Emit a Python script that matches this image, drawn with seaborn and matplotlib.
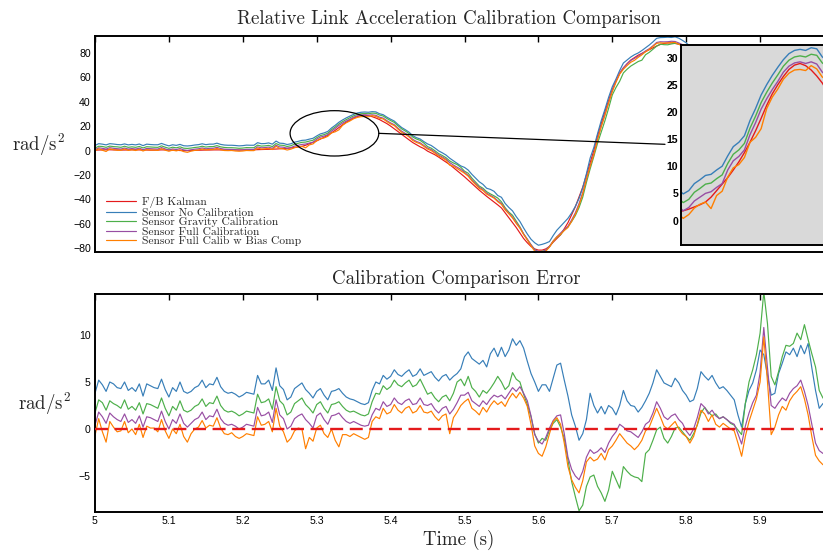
import numpy as np
import pandas as pd
import matplotlib
matplotlib.use("Agg")
import matplotlib.pyplot as plt
import seaborn as sns
from matplotlib.patches import Ellipse

# ---------------- data ----------------
time = np.round(5.0 + 0.005 * np.arange(200), 3)

series_labels = ["F/B Kalman", "Sensor No Calibration", "Sensor Gravity Calibration",
                 "Sensor Full Calibration", "Sensor Full Calib w Bias Comp"]

kalman = [
    0.3, 0.4, 0.5, 0.6, 0.6, 0.5, 0.5, 0.4, 0.4, 0.5, 0.6, 0.6, 0.5, 0.5, 0.4, 0.3, 0.3, 0.4, 0.5, 0.5,
    0.4, 0.3, 0.2, 0.0, -0.1, -0.1, 0.0, 0.1, 0.2, 0.3, 0.4, 0.4, 0.5, 0.5, 0.5, 0.5, 0.5, 0.4, 0.4, 0.4,
    0.4, 0.5, 0.5, 0.6, 0.7, 0.8, 0.9, 1.0, 1.1, 1.2, 1.4, 1.6, 1.8, 2.1, 2.5, 2.9, 3.4, 4.3, 5.5, 6.7,
    7.9, 9.3, 10.8, 12.5, 14.4, 16.5, 18.8, 21.2, 23.3, 25.0, 26.5, 27.8, 28.6, 28.9, 28.5, 27.7, 26.6, 25.3, 23.6, 22.0,
    20.0, 17.8, 15.5, 13.2, 11.0, 8.7, 6.5, 4.7, 3.0, 1.6, -0.5, -2.0, -3.5, -5.4, -7.5, -9.5, -11.5, -14.0, -16.5, -19.0,
    -21.5, -24.2, -27.0, -29.8, -32.5, -35.0, -37.5, -39.8, -42.0, -44.5, -47.0, -51.0, -55.0, -59.0, -63.0, -67.5, -72.0, -75.5, -78.5, -80.5,
    -81.5, -81.5, -80.5, -78.5, -75.0, -72.0, -69.0, -64.0, -59.0, -52.5, -46.0, -38.0, -30.0, -20.0, -10.0, 0.0, 12.0, 22.0, 32.0, 41.0,
    50.0, 57.0, 63.0, 67.5, 71.0, 74.0, 76.0, 78.0, 79.5, 81.0, 82.5, 84.0, 85.5, 86.8, 87.6, 88.0, 88.0, 87.6, 87.0, 86.0,
    84.5, 82.5, 80.0, 77.0, 74.0, 71.0, 68.0, 65.0, 62.0, 59.0, 56.0, 53.0, 50.0, 47.0, 44.0, 41.0, 38.0, 35.0, 32.0, 29.0,
    26.0, 23.0, 20.0, 17.0, 14.0, 11.0, 8.0, 5.0, 2.0, -1.0, -4.0, -7.0, -10.0, -13.0, -16.0, -19.0, -22.0, -25.0, -28.0, -31.0,
]

err_nocal = [
    3.8, 5.2, 4.7, 4.0, 5.0, 4.8, 4.4, 4.3, 5.0, 4.1, 4.4, 4.0, 4.8, 3.5, 4.8, 4.6, 4.4, 4.3, 5.3, 4.2,
    3.4, 4.4, 4.0, 5.0, 4.0, 3.8, 4.0, 4.4, 4.6, 5.2, 4.4, 4.8, 4.7, 5.5, 4.5, 4.0, 3.8, 3.9, 3.7, 3.4,
    3.6, 3.9, 3.8, 3.7, 5.7, 4.8, 4.8, 5.2, 4.1, 6.5, 4.6, 4.2, 3.1, 3.4, 4.3, 4.6, 4.9, 4.2, 3.8, 3.3,
    4.0, 4.3, 3.6, 3.1, 4.0, 4.1, 4.3, 3.8, 3.4, 3.2, 3.1, 2.9, 2.7, 2.6, 2.8, 4.1, 5.0, 4.8, 5.7, 5.3,
    5.6, 6.3, 5.8, 5.6, 6.0, 6.3, 5.6, 5.8, 6.4, 5.7, 5.9, 6.1, 5.5, 5.1, 5.6, 5.8, 5.2, 5.6, 5.9, 6.4,
    7.7, 8.2, 7.5, 7.2, 6.9, 7.3, 6.6, 8.0, 8.6, 7.7, 8.7, 7.7, 8.4, 9.6, 8.9, 9.4, 8.6, 7.2, 5.9, 5.0,
    4.0, 4.7, 4.7, 4.0, 5.4, 6.8, 7.0, 5.2, 3.5, 1.5, 0.3, -1.2, -0.5, 1.0, 3.8, 2.5, 1.7, 2.4, 1.6, 2.5,
    2.2, 1.5, 2.5, 4.1, 3.0, 2.5, 2.4, 1.8, 2.3, 3.0, 3.8, 4.9, 6.3, 5.6, 4.9, 4.7, 4.5, 5.4, 4.9, 4.1,
    3.6, 2.9, 3.1, 4.3, 6.1, 5.6, 5.2, 5.7, 4.9, 4.3, 4.5, 4.1, 3.6, 3.1, 1.5, 0.2, 2.7, 4.1, 4.9, 6.3,
    8.4, 7.9, 5.7, 3.6, 3.8, 5.9, 7.0, 8.2, 7.9, 8.6, 7.7, 8.9, 8.0, 9.1, 6.5, 4.1, 2.2, 2.7, 3.0, 3.2,
]

err_grav = [
    1.7, 3.1, 2.8, 2.0, 3.0, 2.7, 2.5, 2.2, 3.1, 2.1, 2.4, 2.0, 2.8, 1.6, 2.7, 2.6, 2.4, 2.2, 3.3, 2.2,
    1.4, 2.4, 2.0, 3.0, 2.0, 1.8, 2.0, 2.4, 2.6, 3.2, 2.4, 2.8, 2.7, 3.5, 2.5, 2.0, 1.8, 1.9, 1.7, 1.4,
    1.6, 1.9, 1.8, 1.7, 3.7, 2.8, 2.9, 3.2, 2.1, 4.5, 3.0, 2.6, 1.5, 1.8, 2.7, 3.0, 3.3, 2.6, 2.2, 1.7,
    2.6, 2.9, 2.2, 1.7, 2.6, 2.7, 2.9, 2.4, 2.0, 1.8, 1.9, 1.7, 1.5, 1.4, 1.6, 2.9, 3.8, 3.7, 4.6, 4.2,
    4.5, 5.2, 4.7, 4.5, 4.9, 5.2, 4.5, 4.7, 5.3, 4.5, 3.7, 3.9, 3.3, 2.9, 3.4, 3.6, 3.0, 3.8, 5.0, 5.3,
    4.6, 5.6, 4.4, 4.0, 3.4, 4.1, 3.8, 4.3, 4.9, 5.6, 5.0, 4.2, 4.6, 6.0, 5.3, 5.0, 3.7, 2.6, 1.3, -0.5,
    -1.5, -1.0, -1.2, -0.1, 0.6, 1.0, 0.2, -1.0, -3.3, -5.6, -7.2, -8.7, -8.1, -6.1, -5.1, -4.9, -6.1, -6.8, -7.7, -6.5,
    -4.5, -5.4, -6.3, -4.0, -4.5, -4.9, -5.1, -5.2, -5.6, -2.6, -2.2, -1.2, -0.1, 0.2, -1.0, -1.5, -0.8, 0.1, 0.2, -0.3,
    -0.8, -1.2, -0.5, 0.4, 1.7, 2.3, 1.8, 1.4, 1.6, 1.1, 1.3, 1.0, 0.6, 0.4, -0.1, -0.6, 2.7, 5.0, 6.3, 7.9,
    10.2, 14.6, 11.2, 5.6, 4.7, 6.1, 7.7, 8.9, 8.8, 9.1, 10.2, 9.5, 11.1, 9.5, 8.0, 6.6, 4.1, 3.3, 3.0, 3.2,
]

err_full = [
    0.4, 1.8, 1.3, 0.6, 1.7, 1.3, 1.0, 0.8, 1.6, 0.7, 1.0, 0.6, 1.4, 0.2, 1.3, 1.2, 1.0, 0.8, 1.9, 0.8,
    0.0, 1.0, 0.6, 1.6, 0.6, 0.2, 0.6, 1.0, 1.2, 1.8, 1.0, 1.4, 1.3, 2.1, 1.1, 0.6, 0.4, 0.5, 0.3, 0.0,
    0.2, 0.5, 0.4, 0.3, 2.3, 1.4, 1.5, 1.8, 0.7, 3.1, 1.5, 1.1, 0.0, 0.3, 1.1, 1.4, 1.6, 1.0, 0.6, 0.1,
    1.4, 1.7, 1.0, 0.5, 1.4, 1.5, 1.7, 1.2, 0.8, 0.6, 0.8, 0.6, 0.4, 0.3, 0.4, 1.5, 2.2, 2.0, 2.9, 2.4,
    2.6, 3.3, 2.8, 2.6, 3.0, 3.2, 2.6, 2.7, 3.3, 2.6, 2.5, 2.7, 2.1, 1.7, 2.2, 2.4, 1.6, 2.1, 2.8, 3.6,
    3.6, 3.9, 3.0, 2.7, 2.4, 3.0, 2.6, 3.2, 3.6, 3.4, 3.6, 3.2, 3.8, 4.4, 4.0, 4.5, 3.8, 3.0, 1.4, -0.6,
    -1.3, -1.6, -0.9, 0.1, 0.9, 1.4, 1.5, -0.5, -3.0, -4.3, -5.0, -5.4, -4.5, -3.0, -2.2, -2.6, -2.4, -2.0, -2.5, -1.5,
    -0.8, -0.3, 0.5, 0.2, -0.2, -0.3, -0.6, -0.9, -0.3, 0.5, 0.8, 1.7, 2.9, 2.2, 1.3, 1.0, 1.4, 1.6, 1.0, 0.6,
    -0.2, -0.7, 0.0, 1.2, 2.7, 2.3, 1.6, 2.0, 1.4, 1.1, 1.3, 1.0, 0.7, 0.5, -0.5, -1.6, 0.3, 1.7, 2.8, 3.6,
    6.0, 10.8, 6.5, 2.5, 2.2, 2.8, 3.3, 3.0, 3.8, 4.3, 4.6, 5.2, 4.0, 2.5, 0.5, -1.5, -2.3, -2.6, -2.4, -2.3,
]

err_bias = [
    -0.7, 1.1, -0.3, -1.4, 0.8, 0.2, -0.3, -0.2, 0.8, -0.4, 0.0, -0.6, 0.5, -0.9, 0.3, 0.1, 0.1, -0.3, 1.0, -0.2,
    -1.0, 0.0, -0.5, 0.5, -0.8, -1.4, -0.5, 0.0, 0.2, 0.9, 0.1, 0.4, 0.3, 1.2, 0.1, -0.5, -0.6, -0.4, -0.8, -1.0,
    -0.8, -0.5, -0.6, -0.7, 1.3, 0.4, 0.5, 0.8, -0.3, 2.2, 0.3, -0.3, -1.4, -1.0, -0.2, 0.1, 0.0, -2.1, -0.9, -1.3,
    0.1, 0.4, -0.5, -0.9, 0.0, -1.2, -1.9, -0.6, -0.6, -0.8, -0.5, -0.7, -0.9, -1.1, -0.9, 0.8, 1.3, 1.1, 2.2, 1.6,
    1.8, 2.6, 2.0, 1.7, 2.2, 2.4, 1.7, 1.9, 2.5, 1.8, 1.7, 1.9, 1.3, 0.9, 1.4, 1.6, -0.5, 1.2, 1.8, 2.5,
    2.9, 3.2, 2.2, 1.9, 1.5, 2.3, 1.8, 2.5, 3.0, 2.6, 2.9, 2.4, 3.2, 3.8, 3.3, 3.9, 3.3, 2.4, 0.5, -1.8,
    -2.6, -2.9, -1.9, -0.5, 0.8, 1.2, 0.5, -1.5, -4.0, -5.4, -6.2, -6.8, -5.5, -3.5, -3.0, -3.4, -3.2, -2.6, -3.3, -2.2,
    -1.8, -1.2, -0.5, -1.0, -1.5, -1.8, -2.2, -1.8, -1.2, -0.2, 0.2, 1.2, 2.2, 1.3, 0.3, 0.0, 0.4, 0.8, 0.0, -0.5,
    -0.8, -1.5, -0.8, 0.5, 2.0, 1.6, 0.8, 1.5, 0.5, 0.2, 0.6, 0.3, 0.0, -0.2, -1.5, -2.9, -0.8, 0.8, 2.0, 3.2,
    5.0, 9.8, 5.0, -0.6, 0.2, 1.5, 2.4, 2.0, 3.0, 3.6, 4.0, 4.5, 3.2, 1.5, -0.8, -2.8, -3.4, -3.8, -3.5, -3.3,
]

x_ticks = [5.0, 5.1, 5.2, 5.3, 5.4, 5.5, 5.6, 5.7, 5.8, 5.9]
x_ticklabels = ["5", "5.1", "5.2", "5.3", "5.4", "5.5", "5.6", "5.7", "5.8", "5.9"]
top_yticks = [-80, -60, -40, -20, 0, 20, 40, 60, 80]
err_yticks = [-5, 0, 5, 10]
inset_yticks = [0, 5, 10, 15, 20, 25, 30]
inset_xticks = [5.26, 5.28, 5.30, 5.32, 5.34, 5.36, 5.38, 5.40]

# zoom region marked by the ellipse, and the end of the pointer line
zoom_t = (5.264, 5.384)
zoom_v = (-4.5, 32.6)
pointer_end = (5.7713, 5.07)

# ---------------- styling ----------------
sns.set_style("white")
plt.rcParams["font.family"] = ["Liberation Sans", "DejaVu Sans"]
plt.rcParams["mathtext.fontset"] = "cm"
plt.rcParams["axes.unicode_minus"] = True

palette = sns.color_palette("Set1", 5)
colors = [palette[0], palette[1], palette[2], palette[3], palette[4]]
serif = ["cmr10", "DejaVu Serif"]

sensor_vals = [np.asarray(kalman) + np.asarray(e) for e in (err_nocal, err_grav, err_full, err_bias)]
top_df = pd.DataFrame({
    "Time": np.tile(time, 5),
    "Value": np.concatenate([np.asarray(kalman)] + sensor_vals),
    "Series": np.repeat(series_labels, len(time)),
})
err_df = pd.DataFrame({
    "Time": np.tile(time, 4),
    "Value": np.concatenate([err_nocal, err_grav, err_full, err_bias]),
    "Series": np.repeat(series_labels[1:], len(time)),
})

W, H = 823, 552
fig = plt.figure(figsize=(W / 100, H / 100), dpi=100)


def px_axes(left, top, right, bottom):
    return fig.add_axes([left / W, 1 - bottom / H, (right - left) / W, (bottom - top) / H])


ax1 = px_axes(95, 36, 834, 251.7)
ax2 = px_axes(95, 294.3, 834, 511.7)
axin = px_axes(681, 45, 839, 245)

lw = 0.85
sns.lineplot(data=top_df, x="Time", y="Value", hue="Series", hue_order=series_labels,
             palette=colors, ax=ax1, legend=False, estimator=None, sort=False, linewidth=lw)
sns.lineplot(data=err_df, x="Time", y="Value", hue="Series", hue_order=series_labels[1:],
             palette=colors[1:], ax=ax2, legend=False, estimator=None, sort=False, linewidth=lw)
ax2.axhline(0, color=colors[0], lw=1.7, dashes=(5.5, 2.8), zorder=4)
sns.lineplot(data=top_df, x="Time", y="Value", hue="Series", hue_order=series_labels,
             palette=colors, ax=axin, legend=False, estimator=None, sort=False, linewidth=1.0)

for ax in (ax1, ax2):
    ax.set_xlim(5.0, 6.0)
    ax.set_xticks(x_ticks)
    ax.set_xlabel("")
    ax.set_ylabel("")
    for s in ax.spines.values():
        s.set_linewidth(1.4)
        s.set_color("black")
    ax.tick_params(direction="in", length=4, width=1.0, top=True, right=True,
                   labelsize=7.6, colors="black", pad=3)

ax1.set_ylim(-82.8, 93.7)
ax1.set_yticks(top_yticks)
ax1.set_xticklabels([])
ax2.set_ylim(-8.8, 14.33)
ax2.set_yticks(err_yticks)
ax2.set_xticklabels(x_ticklabels)

# legend
handles = ax1.get_lines()[:5]
leg = ax1.legend(handles, series_labels, loc="lower left", bbox_to_anchor=(0.015, 0.025),
                 frameon=False, borderpad=0, borderaxespad=0, handlelength=2.6,
                 handletextpad=0.55, labelspacing=-0.05, prop={"family": serif, "size": 8.3})

# zoom ellipse and pointer
ell = Ellipse(((zoom_t[0] + zoom_t[1]) / 2, (zoom_v[0] + zoom_v[1]) / 2),
              zoom_t[1] - zoom_t[0], zoom_v[1] - zoom_v[0],
              fill=False, edgecolor="black", lw=0.9, zorder=6)
ax1.add_patch(ell)
ax1.plot([zoom_t[1], pointer_end[0]], [(zoom_v[0] + zoom_v[1]) / 2, pointer_end[1]],
         color="black", lw=0.9, zorder=6)

# inset
axin.set_facecolor("#d9d9d9")
axin.set_xlim(5.258, 5.400)
axin.set_ylim(-4.5, 32.3)
axin.set_xticks(inset_xticks)
axin.set_xticklabels([])
axin.set_yticks(inset_yticks)
axin.set_xlabel("")
axin.set_ylabel("")
for s in axin.spines.values():
    s.set_linewidth(1.4)
    s.set_color("black")
axin.tick_params(direction="in", length=3, width=0.8, labelsize=7.6, colors="black", pad=2)
for lab in axin.get_yticklabels():
    lab.set_fontweight("bold")

# titles and labels
fig.text(449 / W, 1 - 19 / H, "Relative Link Acceleration Calibration Comparison",
         ha="center", va="center", family=serif, fontsize=13.6)
fig.text(456 / W, 1 - 279 / H, "Calibration Comparison Error",
         ha="center", va="center", family=serif, fontsize=13.6)
fig.text(12 / W, 1 - 145 / H, r"rad/s$^2$", ha="left", va="center", family=serif, fontsize=13.6)
fig.text(18 / W, 1 - 404 / H, r"rad/s$^2$", ha="left", va="center", family=serif, fontsize=13.6)
fig.text(459 / W, 1 - 540 / H, "Time (s)", ha="center", va="center", family=serif, fontsize=13.6)

fig.savefig("out.png", dpi=100)
